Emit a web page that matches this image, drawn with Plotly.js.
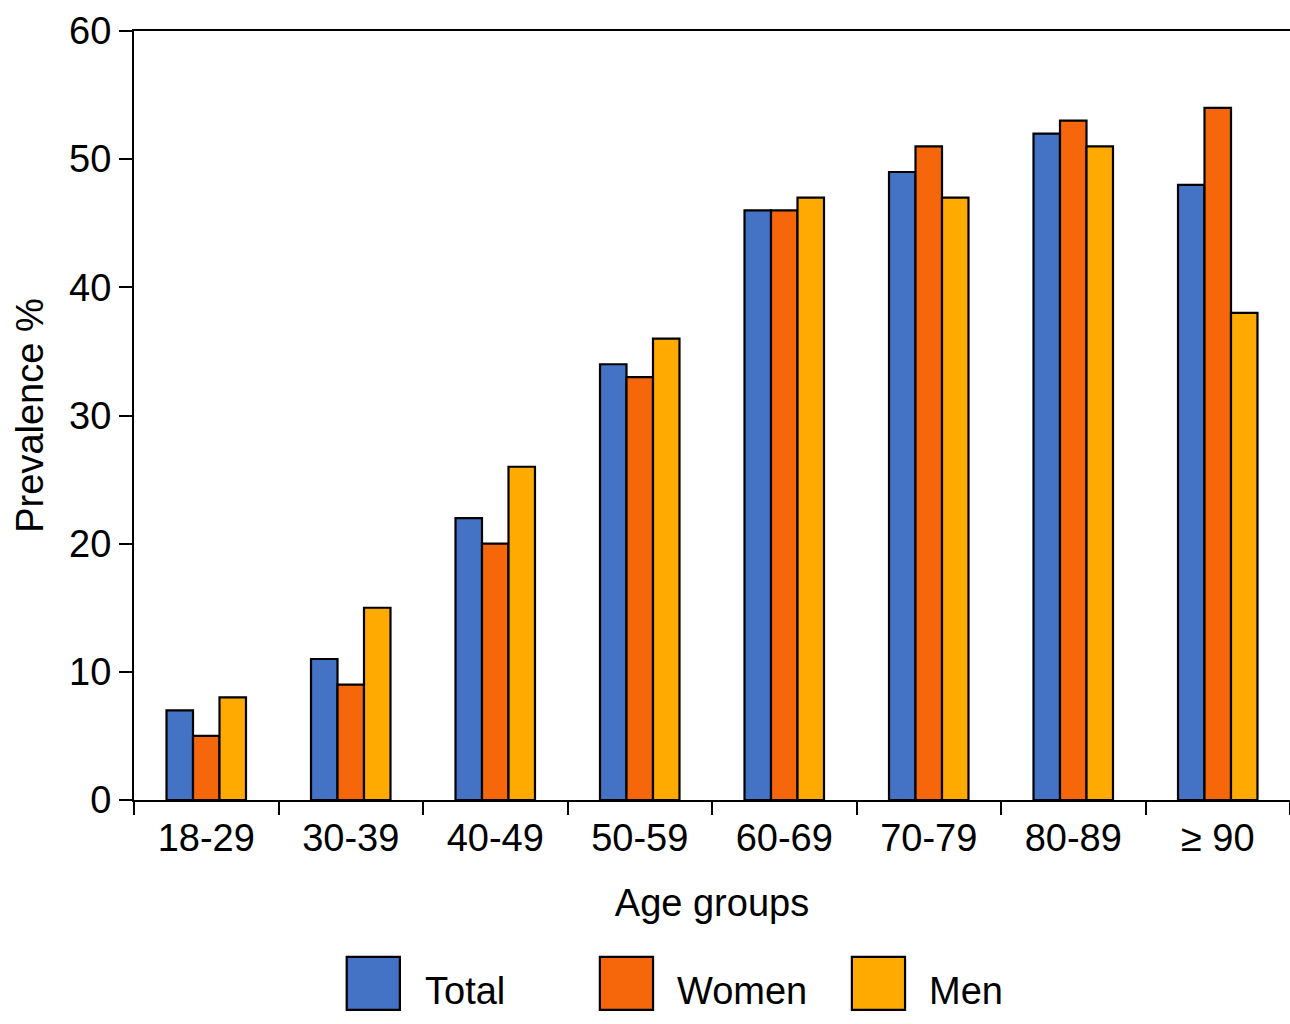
<!DOCTYPE html>
<html>
<head>
<meta charset="utf-8">
<script src="https://cdn.plot.ly/plotly-3.0.1.min.js"></script>
<style>html,body{margin:0;padding:0;background:#fff;}#chart{width:1290px;height:1024px;}</style>
</head>
<body>
<div id="chart"></div>
<script>
const categories = ["18-29", "30-39", "40-49", "50-59", "60-69", "70-79", "80-89", "≥ 90"];
const totalValues = [7, 11, 22, 34, 46, 49, 52, 48];
const womenValues = [5, 9, 20, 33, 46, 51, 53, 54];
const menValues = [8, 15, 26, 36, 47, 47, 51, 38];
const seriesNames = ["Total", "Women", "Men"];
const seriesColors = ["#4472C4", "#F6660A", "#FEAA00"];
const yTicks = [0, 10, 20, 30, 40, 50, 60];

const FONT = "Liberation Sans Narrow, Arial Narrow, Liberation Sans, Arial, sans-serif";
const FS = 38;
const seriesValues = [totalValues, womenValues, menValues];

const traces = seriesValues.map((vals, i) => ({
  type: "bar",
  name: seriesNames[i],
  x: categories,
  y: vals,
  marker: { color: seriesColors[i], line: { color: "#000", width: 2.2 } },
  showlegend: false,
  hoverinfo: "x+y+name"
}));

// custom legend (large boxes as in the reference)
const legendBoxX = [[0.184, 0.230], [0.403, 0.449], [0.621, 0.667]];
const legendTextX = [0.250, 0.468, 0.686];
const shapes = [];
const annotations = [];
seriesNames.forEach((n, i) => {
  shapes.push({
    type: "rect", xref: "paper", yref: "paper",
    x0: legendBoxX[i][0], x1: legendBoxX[i][1], y0: -0.273, y1: -0.204,
    fillcolor: seriesColors[i], line: { color: "#000", width: 2.2 }
  });
  annotations.push({
    xref: "paper", yref: "paper", x: legendTextX[i], y: -0.248,
    xanchor: "left", yanchor: "middle", text: n, showarrow: false,
    font: { family: FONT, size: FS, color: "#000" }
  });
});

const layout = {
  width: 1290, height: 1024,
  margin: { l: 134, r: 0, t: 31, b: 224 },
  paper_bgcolor: "#fff", plot_bgcolor: "#fff",
  barmode: "group", bargap: 0.45, bargroupgap: 0,
  font: { family: FONT, size: FS, color: "#000" },
  xaxis: {
    type: "category",
    range: [-0.5, 7.5],
    showline: true, linecolor: "#000", linewidth: 2, mirror: true,
    ticks: "outside", tickson: "boundaries", ticklen: 13, tickwidth: 2, tickcolor: "#000",
    ticklabelstandoff: 3,
    showgrid: false, zeroline: false,
    tickfont: { family: FONT, size: FS, color: "#000" },
    title: { text: "Age groups", font: { family: FONT, size: FS, color: "#000" }, standoff: 32 }
  },
  yaxis: {
    range: [0, 60],
    tickvals: yTicks,
    showline: true, linecolor: "#000", linewidth: 2,
    ticks: "outside", ticklen: 13, tickwidth: 2, tickcolor: "#000",
    showgrid: false, zeroline: false,
    tickfont: { family: FONT, size: FS, color: "#000" },
    title: { text: "Prevalence %", font: { family: FONT, size: FS, color: "#000" }, standoff: 14 }
  },
  shapes: shapes,
  annotations: annotations
};

Plotly.newPlot("chart", traces, layout, { displayModeBar: false, staticPlot: true });
</script>
</body>
</html>
